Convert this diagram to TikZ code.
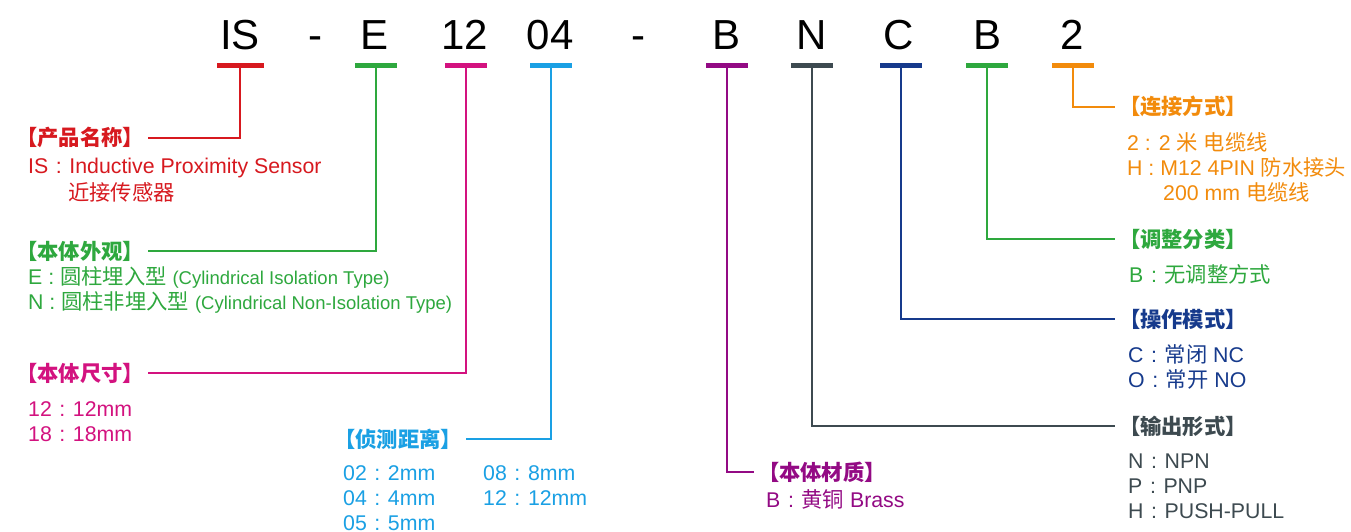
\documentclass[tikz,border=0pt]{standalone}
\usepackage{fontspec}
\setmainfont{Liberation Sans}
\newfontfamily\cjk{Noto Sans CJK SC}
\newcommand\zh[1]{{\cjk #1}}
\newcommand\cc{\hspace{7.6pt}:\hspace{7.6pt}}
\definecolor{cRed}{HTML}{D7191F}
\definecolor{cGreen}{HTML}{2EA83E}
\definecolor{cMag}{HTML}{D3127F}
\definecolor{cBlue}{HTML}{1AA0E4}
\definecolor{cPurple}{HTML}{930A84}
\definecolor{cGray}{HTML}{3D4A50}
\definecolor{cNavy}{HTML}{163A8C}
\definecolor{cOrange}{HTML}{F28B0C}
\begin{document}
\begin{tikzpicture}[x=1pt,y=-1pt,
  letter/.style={inner sep=0pt, anchor=base, font=\fontsize{42pt}{46pt}\selectfont},
  bar/.style={inner sep=0pt, minimum width=42pt, minimum height=5pt, fill=#1, draw=none},
  hdr/.style={inner sep=0pt, outer xsep=4pt, outer ysep=0pt, text height=16pt, text depth=0pt, text=#1,
    font=\fontsize{21.3pt}{25pt}\selectfont\cjk\bfseries},
  item/.style={inner sep=0pt, anchor=base west, text=#1, font=\fontsize{21.3pt}{25pt}\selectfont},
  link/.style={draw=#1, line width=1.8pt},
  paren/.style={}]
\useasboundingbox[fill=white] (0,0) rectangle (1351,532);

% top code letters
\node[letter] (tIS) at (240,50) {IS};
\node[letter] (tD1) at (315,50) {-};
\node[letter] (tE) at (375,50) {E};
\node[letter] (t12) at (465,50) {12};
\node[letter] (t04) at (550,50) {04};
\node[letter] (tD2) at (638,50) {-};
\node[letter] (tB) at (726,50) {B};
\node[letter] (tN) at (812,50) {N};
\node[letter] (tC) at (899,50) {C};
\node[letter] (tB2) at (987,50) {B};
\node[letter] (t2) at (1072,50) {2};

% colour bars
\node[bar=cRed, minimum width=47pt] (bIS) at (240,65.5) {};
\node[bar=cGreen] (bE) at (376,65.5) {};
\node[bar=cMag] (b12) at (466,65.5) {};
\node[bar=cBlue] (b04) at (551,65.5) {};
\node[bar=cPurple] (bB) at (727,65.5) {};
\node[bar=cGray] (bN) at (812,65.5) {};
\node[bar=cNavy] (bC) at (901,65.5) {};
\node[bar=cGreen] (bB2) at (987,65.5) {};
\node[bar=cOrange] (b2) at (1073,65.5) {};

% headers
\node[hdr=cRed, anchor=east] (hName) at (148,138) {【产品名称】};
\node[hdr=cGreen, anchor=east] (hLook) at (148,251) {【本体外观】};
\node[hdr=cMag, anchor=east] (hSize) at (148,373) {【本体尺寸】};
\node[hdr=cBlue, anchor=east] (hDist) at (466,439) {【侦测距离】};
\node[hdr=cPurple, anchor=west] (hMat) at (754,472) {【本体材质】};
\node[hdr=cGray, anchor=west] (hOut) at (1115,426) {【输出形式】};
\node[hdr=cNavy, anchor=west] (hMode) at (1115,319) {【操作模式】};
\node[hdr=cGreen, anchor=west] (hAdj) at (1115,239) {【调整分类】};
\node[hdr=cOrange, anchor=west] (hConn) at (1115,107) {【连接方式】};

% connectors
\draw[link=cRed] (bIS.south) |- (hName.east);
\draw[link=cGreen] (bE.south) |- (hLook.east);
\draw[link=cMag] (b12.south) |- (hSize.east);
\draw[link=cBlue] (b04.south) |- (hDist.east);
\draw[link=cPurple] (bB.south) |- (hMat.west);
\draw[link=cGray] (bN.south) |- (hOut.west);
\draw[link=cNavy] (bC.south) |- (hMode.west);
\draw[link=cGreen] (bB2.south) |- (hAdj.west);
\draw[link=cOrange] (b2.south) |- (hConn.west);

% items
\node[item=cRed] (iName1) at (28,173) {IS\cc Inductive Proximity Sensor};
\node[item=cRed] (iName2) at (68,200) {\zh{近接传感器}};

\node[item=cGreen] (iLook1) at (28,284) {E : \zh{圆柱埋入型} {\fontsize{18.5pt}{22pt}\selectfont (Cylindrical Isolation Type)}};
\node[item=cGreen] (iLook2) at (28,309) {N : \zh{圆柱非埋入型} {\fontsize{18.5pt}{22pt}\selectfont (Cylindrical Non-Isolation Type)}};

\node[item=cMag] (iSize1) at (28,416) {12\cc 12mm};
\node[item=cMag] (iSize2) at (28,441) {18\cc 18mm};

\node[item=cBlue] (iDist1) at (343,480) {02\cc 2mm};
\node[item=cBlue] (iDist2) at (343,505) {04\cc 4mm};
\node[item=cBlue] (iDist3) at (343,530) {05\cc 5mm};
\node[item=cBlue] (iDist4) at (483,480) {08\cc 8mm};
\node[item=cBlue] (iDist5) at (483,505) {12\cc 12mm};

\node[item=cPurple] (iMat1) at (766,507) {B\cc \zh{黄铜} Brass};

\node[item=cGray] (iOut1) at (1128,468) {N\cc NPN};
\node[item=cGray] (iOut2) at (1128,493) {P\cc PNP};
\node[item=cGray] (iOut3) at (1128,518) {H\cc PUSH-PULL};

\node[item=cNavy] (iMode1) at (1128,362) {C\cc \zh{常闭} NC};
\node[item=cNavy] (iMode2) at (1128,387) {O\cc \zh{常开} NO};

\node[item=cGreen] (iAdj1) at (1129,282) {B\cc \zh{无调整方式}};

\node[item=cOrange] (iConn1) at (1127,150) {2 : 2 \zh{米} \zh{电缆线}};
\node[item=cOrange] (iConn2) at (1127,175) {H : M12 4PIN \zh{防水接头}};
\node[item=cOrange] (iConn3) at (1163,200) {200 mm \zh{电缆线}};
\end{tikzpicture}
\end{document}
